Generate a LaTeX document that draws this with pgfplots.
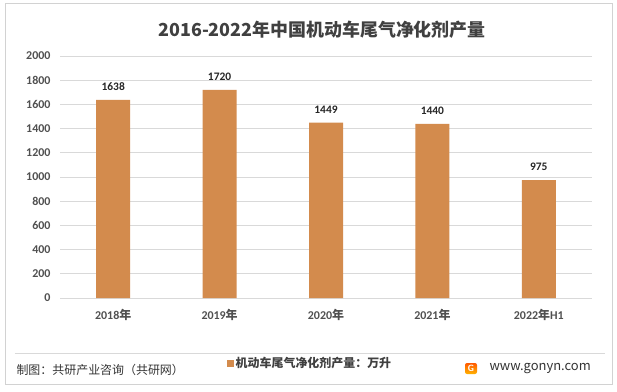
\documentclass[border=0pt]{standalone}
\usepackage{fontspec}
\setmainfont{Noto Sans CJK SC}
\newfontfamily\numfont{Carlito}
\usepackage{pgfplots}
\pgfplotsset{compat=1.18}
\definecolor{barc}{RGB}{211,139,77}
\definecolor{txt}{RGB}{80,80,80}
\definecolor{gridc}{RGB}{217,217,217}
\definecolor{framec}{RGB}{210,210,210}
\definecolor{titlec}{RGB}{64,64,64}
\begin{document}
\begin{tikzpicture}
\begin{axis}[
  scale only axis, width=532bp, height=242bp,
  xmin=-0.5, xmax=4.5, ymin=0, ymax=2000,
  ytick={0,200,...,2000},
  xtick={0,1,2,3,4},
  xticklabels={{2018\rmfamily 年},{2019\rmfamily 年},{2020\rmfamily 年},{2021\rmfamily 年},{2022\rmfamily 年\numfont H1}},
  /pgf/number format/assume math mode=true,
  /pgf/number format/1000 sep={},
  ymajorgrids, grid style={gridc, line width=0.8bp},
  axis x line*=bottom, axis y line*=left,
  y axis line style={draw=none},
  x axis line style={gridc, line width=0.8bp},
  major tick length=0pt,
  yticklabel style={font=\numfont\bfseries\fontsize{12}{14}\selectfont, text=txt, xshift=-6bp},
  xticklabel style={font=\numfont\bfseries\fontsize{12}{14}\selectfont, text=txt, yshift=-8bp},
  legend style={at={(0.314,-0.269)}, anchor=west, draw=none, fill=none, font=\bfseries\fontsize{12}{14}\selectfont, text=titlec, inner sep=0pt},
  legend image code/.code={\fill[barc] (0bp,-3.5bp) rectangle (6.5bp,3bp);},
  legend cell align=left,
]
\addplot[ybar, bar width=34bp, fill=barc, draw=none,
  nodes near coords,
  nodes near coords style={font=\numfont\bfseries\fontsize{11.5}{13}\selectfont, text=black!85, anchor=south, yshift=6bp},
  point meta=explicit symbolic]
  coordinates {(0,1638) [1638] (1,1720) [1720] (2,1449) [1449] (3,1440) [1440] (4,975) [975]};
\addlegendentry{机动车尾气净化剂产量：万升}
\end{axis}
\begin{scope}[x=1bp,y=1bp,shift={(-60bp,298bp)}]
\draw[framec, line width=0.8bp] (5,-3) rectangle (612,-384);
\path (0,0) rectangle (617,-391);
\node[font=\fontsize{18}{21}\selectfont\bfseries, text=titlec] at (322,-30) {2016-2022年中国机动车尾气净化剂产量};
\draw[gridc, line width=0.8bp] (15,-353) -- (605,-353);
\node[anchor=west, font=\fontsize{12}{14}\selectfont, text=black!80] at (13,-370) {制图：共研产业咨询（共研网）};
\node[anchor=west, font=\fontsize{13}{15}\selectfont, text=black!80] at (486,-369) {www.gonyn.com};
\shade[top color=orange!70!red, bottom color=orange!60!yellow, rounded corners=2bp] (465,-363) rectangle (477,-374);
\node[font=\sffamily\bfseries\fontsize{9}{9}\selectfont, text=white] at (471,-368.5) {G};
\end{scope}
\end{tikzpicture}
\end{document}
